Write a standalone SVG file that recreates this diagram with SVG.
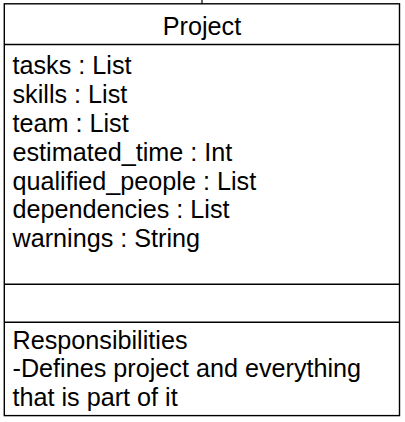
<svg xmlns="http://www.w3.org/2000/svg" width="405" height="422" viewBox="0 0 405 422">
  <style>
    .box { fill: #ffffff; stroke: #000000; stroke-width: 1.4; }
    .sep { stroke: #000000; stroke-width: 1.4; }
    .edge { stroke: #000000; stroke-width: 1.2; fill: none; }
    text { font-family: "Liberation Sans", Arial, sans-serif; font-size: 25.2px; fill: #000000; }
    .title { text-anchor: middle; }
  </style>
  <rect width="405" height="422" fill="#ffffff"/>

  <!-- connectors -->
  <g id="connectors">
    <line class="edge" x1="202" y1="0" x2="202" y2="4"/>
  </g>

  <!-- Project class -->
  <g id="project">
    <rect class="box" x="4.3" y="3.8" width="395.2" height="411.8"/>
    <line class="sep" x1="4.3" y1="44.5" x2="399.5" y2="44.5"/>
    <line class="sep" x1="4.3" y1="284.2" x2="399.5" y2="284.2"/>
    <line class="sep" x1="4.3" y1="322.2" x2="399.5" y2="322.2"/>

    <text class="title" x="202" y="35">Project</text>

    <text x="12.5" y="74.3">tasks : List</text>
    <text x="12.5" y="103.1">skills : List</text>
    <text x="12.5" y="131.9">team : List</text>
    <text x="12.5" y="160.7">estimated_time : Int</text>
    <text x="12.5" y="189.5">qualified_people : List</text>
    <text x="12.5" y="218.3">dependencies : List</text>
    <text x="12.5" y="247.1">warnings : String</text>

    <text x="12.5" y="348.5">Responsibilities</text>
    <text x="12.5" y="377.3">-Defines project and everything</text>
    <text x="12.5" y="406.1">that is part of it</text>
  </g>
</svg>
